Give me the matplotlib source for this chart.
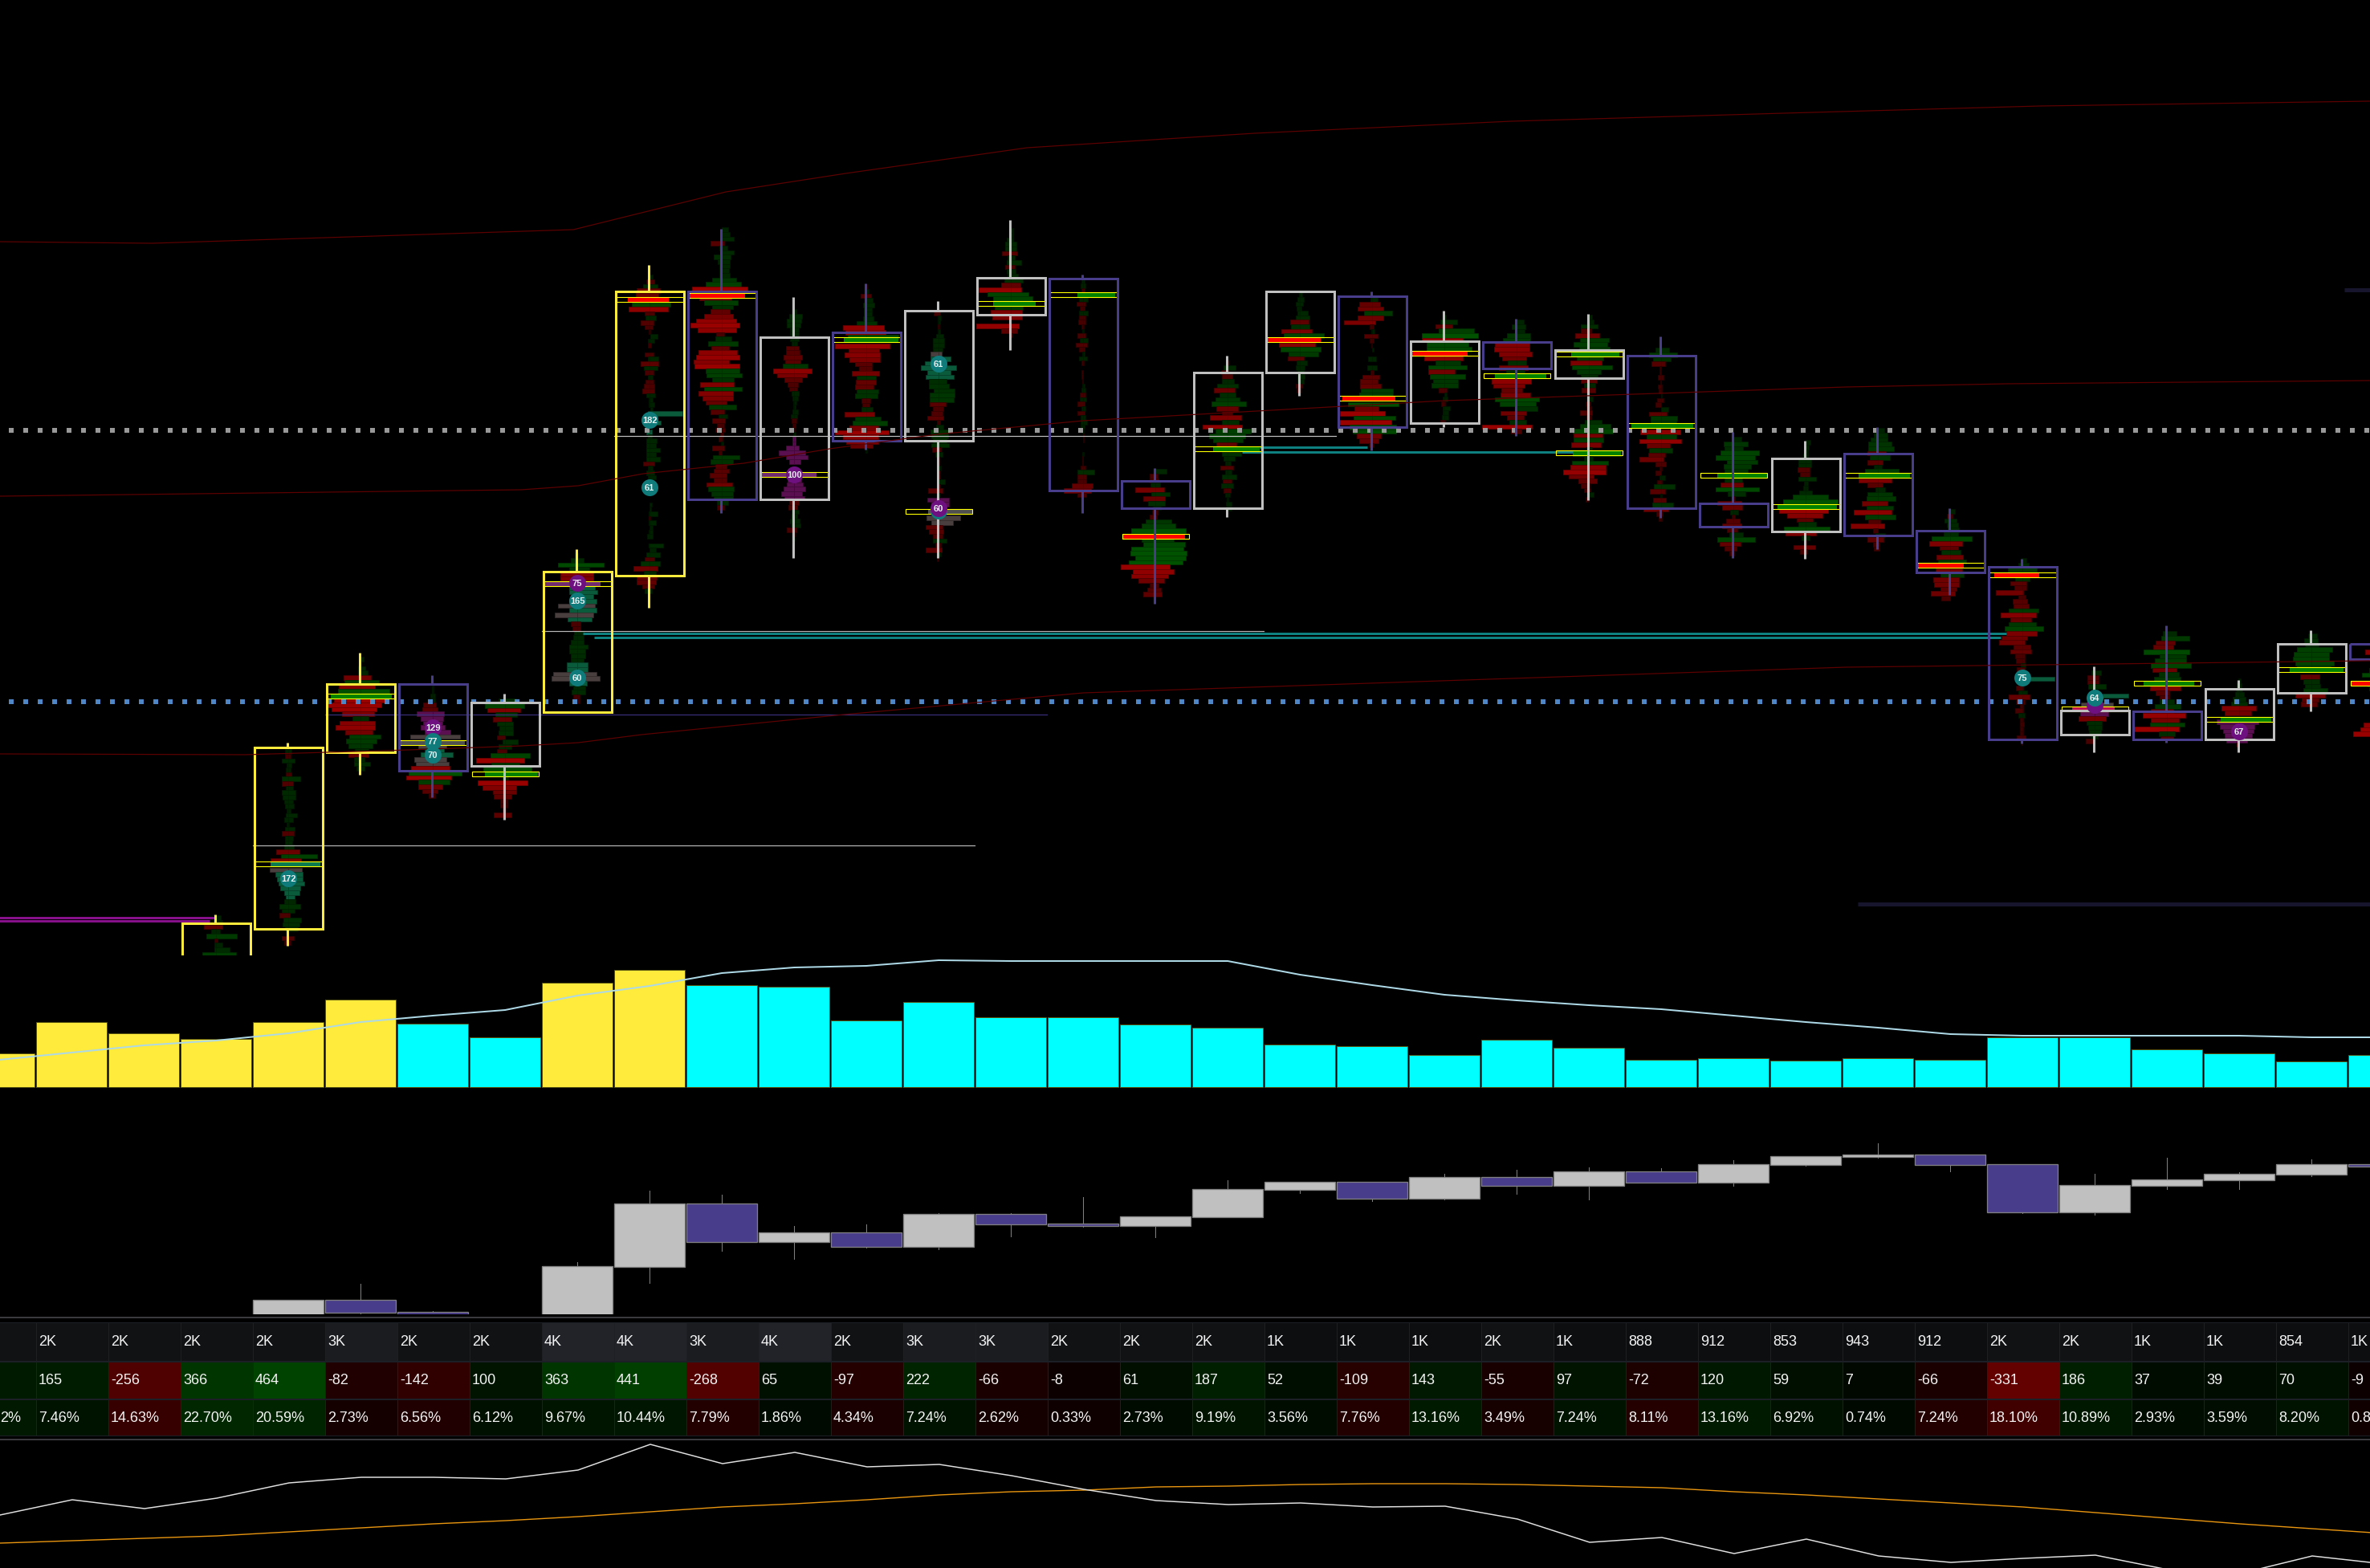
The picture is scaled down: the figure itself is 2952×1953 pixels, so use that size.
import matplotlib
matplotlib.use("Agg")
import matplotlib.pyplot as plt
from matplotlib.patches import Rectangle

W, H = 2952, 1953
PX = 90.0  # pixels per candle slot
SHIFT = 0.8 / PX  # chart panels sit just left of the slot grid

# ---------- main panel candles (price expressed in chart rows) ----------
candle_idx = list(range(3, 34))
box_top = [1150, 931, 852, 852, 875, 712, 363, 363, 420, 414, 387, 346, 347, 599, 464, 363, 369, 425, 426, 436, 443, 627, 571, 565, 661, 706, 885, 886, 858, 802, 802]
box_bot = [1210, 1157, 937, 960, 954, 887, 717, 622, 622, 549, 549, 392, 611, 633, 633, 464, 532, 527, 459, 471, 633, 656, 662, 667, 713, 921, 915, 921, 921, 863, 821]
wick_top = [1139, 925, 813, 841, 864, 684, 330, 285, 370, 353, 375, 274, 342, 583, 443, 363, 363, 387, 397, 391, 419, 538, 549, 532, 633, 696, 830, 779, 847, 785, 802]
wick_bot = [1210, 1178, 965, 993, 1021, 887, 757, 639, 695, 560, 695, 436, 639, 752, 644, 493, 561, 532, 543, 623, 645, 695, 696, 684, 741, 926, 937, 925, 937, 886, 821]
candle_kind = ["Y", "Y", "Y", "B", "W", "Y", "Y", "B", "W", "B", "W", "W", "B", "B", "W", "W", "B", "W", "B", "W", "B", "B", "W", "B", "B", "B", "W", "B", "W", "W", "B"]
poc_y = [None, 1076, 867, 925, 964, 727, 373, 368, 591, 423, 637, 378, 367, 668, 559, 423, 496, 440, 468, 441, 530, 592, 631, 592, 704, 716, 883, 851, 896, 834, 851]
prof_start = [1143, 936, 821, 855, 873, 692, 345, 286, 388, 357, 390, 287, 350, 587, 452, 367, 373, 395, 401, 395, 436, 547, 551, 536, 637, 698, 838, 789, 848, 792, 812]

profiles = {
3: "g1,6 g2,8 r15,8 g6,5 g12,26 r2,2 g2,8 g2,17 g17,25",
4: "g4,4 r4,3 g8,8 g2,4 g3,3 r3,4 g8,15 r8,6 g3,6 g8,9 g7,9 g5,6 g4,7 g2,3 g3,11 g5,6 g2,1 g4,8 r8,7 g4,6 g4,5 g5,7 r15,14 g9,36 r22,16 T22,40 x23,17 t16,18 t14,18 t12,20 t10,15 t5,14 t3,8 g5,9 g11,15 g8,8 r11,2 g6,16 g7,14 g4,12 _ r8,7 r5,3",
5: "g2,4 g1,1 g3,6 g3,9 r21,13 g20,23 r27,18 g28,36 G37,39 r33,30 r42,26 r36,20 r23,17 g10,10 r26,18 r31,18 r19,15 g14,25 g18,20 g15,15 g7,10 r15,10 g8,5 g8,12 g5,5",
6: "g1,1 g1,1 g3,3 g3,3 r12,4 r13,6 p20,14 p15,13 p12,12 p15,15 p10,22 x28,34 X42,40 x18,17 t10,14 t15,25 x23,17 x21,20 r27,21 g30,36 r33,23 g18,21 r18,12 r13,6 r5,3",
7: "g8,14 g25,24 r22,19 g12,15 r15,8 g10,10 g7,10 g8,10 r10,0 g3,16 g8,8 r10,2 g18,31 r36,24 g17,18 g27,33 G25,41 g4,4 r34,28 r28,14 r15,14 r14,8 r6,3 r6,3 r3,1 r14,8",
8: "g3,1 g8,8 g24,33 g10,15 r21,20 r21,20 P42,29 t10,22 t10,25 t8,20 t10,24 x24,22 t10,24 x28,20 t12,18 r8,4 r6,4 g4,9 g5,8 g8,8 g10,13 g10,10 g8,10 g8,8 t13,13 t13,13 x30,24 x32,28 t10,12 g5,10 g7,10 r5,3 r5,3",
9: "g0,4 r4,6 g8,10 r16,13 r17,11 R27,24 g22,26 r26,23 r6,6 g5,8 r11,5 r6,4 r1,1 g-1,10 g2,6 r2,2 _ r6,5 g2,11 r11,11 g7,10 r6,5 g2,4 r5,5 r7,6 r9,6 g4,7 g1,4 g1,6 g-1,4 t2,41 t2,10 t7,14 _ t4,3 g2,3 g4,9 g4,8 g4,13 g4,8 g4,13 r8,6 g2,4 g4,6 g2,8 _ _ _ _ _ g0,3 g0,2 g1,10 r1,1 g1,8 g0,4 g1,4 g3,4 _ g1,17 g0,8 g4,13 r6,6 g11,13 r20,10 g7,8 r16,9 r16,8 r9,6 g6,3",
10: "g0,8 g0,10 g0,15 r14,3 g3,7 g2,15 g10,11 g5,10 g3,10 g3,9 g3,10 g12,18 g20,24 r37,32 R42,29 r28,12 g22,20 g12,14 r14,10 r22,14 r32,18 r39,22 r30,18 r7,3 g8,12 g17,20 r13,9 r29,19 r32,22 r35,9 r34,22 g20,22 g19,25 g12,15 r27,15 g22,25 r29,14 r24,14 r20,6 g16,18 r14,3 g4,7 r12,4 r6,3 r8,4 r2,2 r4,1 g1,2 r12,3 r4,0 g11,22 g14,14 r8,6 r10,9 r15,6 r10,6 r19,13 g17,15 g13,14 g10,14 g6,8 r6,3",
11: "g2,3 g6,10 g9,9 g9,8 g5,6 g5,6 g5,6 g3,4 r10,6 r10,7 r13,10 r11,8 g14,17 r26,22 r21,16 r12,10 r8,5 r6,4 g3,6 g2,5 g1,3 g1,2 g2,5 g4,4 r3,3 r2,2 r2,1 g1,2 p2,2 p2,2 p10,6 p19,14 p10,17 p6,8 P43,28 p5,5 p5,5 p8,9 p9,11 p13,14 p16,10 p12,13 r6,6 r7,4 g3,6 g4,4 g5,7 g4,8 r9,3 r2,1 g1,1",
12: "r1,1 g1,3 r7,6 g2,8 g4,10 g3,7 g3,7 g4,9 g12,13 r29,22 r26,24 g23,40 G28,40 r39,29 r22,16 r27,17 r21,17 r14,7 r9,7 r18,16 g12,12 r13,12 r14,9 g12,15 g14,14 r6,5 r5,4 g6,8 r27,10 g14,18 g17,26 r21,15 r39,28 r29,15 r25,15 r20,8 g1,1",
13: "r6,2 g1,3 g1,2 r1,1 g1,2 g3,6 g7,7 g7,7 g7,5 x10,4 t10,15 t17,10 t22,22 t14,15 t16,19 g12,10 g12,13 g6,20 g11,20 g11,19 r11,9 r7,6 r9,5 r14,6 r2,2 g3,6 g10,14 g9,12 g7,10 g9,13 r8,3 g4,5 r1,1 r1,1 g1,3 r2,2 r2,2 g1,8 r2,2 r13,5 g2,2 p14,13 p9,13 p8,8 X13,42 x15,27 x9,18 r16,5 r12,6 r7,5 g7,10 r4,3 r16,4 g2,3 r2,0",
14: "g1,3 g1,3 g5,3 g7,7 g7,7 r11,8 g4,5 g5,13 r7,5 g5,6 g4,9 g8,15 r12,12 r40,13 g29,22 g22,27 G22,31 g20,15 r25,14 r23,14 _ r43,10 r12,8 r2,2",
15: "g2,2 g3,3 r2,2 G7,40 g5,6 r8,3 r4,2 g5,6 r5,3 r6,3 r2,1 g1,1 r7,3 g4,6 r9,5 r5,2 g1,2 g5,5 r2,1 _ r2,0 r2,0 r1,0 g1,2 g2,3 r4,3 g4,4 r7,2 g2,3 r7,2 g3,3 g3,5 g3,2 g1,1 r0,1 r0,1 _ _ g1,1 r1,0 r1,0 r3,3 g7,14 r7,4 r7,4 r14,12 r24,10 r7,4",
16: "g0,14 r7,3 r7,4 g6,6 r25,11 g5,18 r15,12 g9,12 g3,7 r4,3 r7,2 g12,20 g17,25 g30,38 R40,37 g17,23 g15,37 g30,35 g31,39 g25,38 g33,34 r43,18 r28,23 r30,16 r21,11 r7,4 r10,7 r15,8",
17: "r1,1 g5,10 r8,1 r7,6 g7,8 g13,13 r17,9 g10,10 g15,15 g20,23 r14,13 r7,6 r22,17 g7,14 r31,18 g15,29 g23,22 g18,19 r14,11 G18,40 g7,17 g5,9 g3,4 r9,7 g3,5 g7,11 r6,5 g8,7 r5,4 g3,3 g1,1 g2,5 g2,5 r1,0",
18: "g1,3 g3,5 g5,4 g4,2 g3,10 g5,12 r12,11 g11,12 r23,15 g20,30 R42,26 r26,19 g24,26 g14,23 r15,5 g4,9 g5,6 g3,5 g3,6 g3,5 r5,3 r4,1",
19: "g2,7 r16,10 r18,14 g10,25 r18,14 r35,4 r3,2 g1,3 r10,7 r3,2 r1,0 g0,2 _ g5,5 _ g6,6 r2,2 r12,9 r15,7 r15,11 g14,26 g16,26 R37,29 g30,33 r22,8 r40,16 g23,29 r43,24 g28,30 g24,30 r19,11 r16,8 r4,2",
20: "g1,2 g5,16 r11,10 g7,37 g28,42 r28,23 g22,30 g22,34 R40,29 r25,23 g11,20 g20,28 r20,13 g18,26 g14,17 g16,17 r7,3 g0,3 g2,4 r4,1 g2,7 g2,5 g3,5 r5,1",
21: "g0,9 g6,11 g0,10 g12,17 g17,17 r27,16 r28,16 r22,19 r18,12 g11,12 r22,14 g13,10 G27,37 r31,18 r29,10 r19,7 r20,17 g27,28 g21,24 g0,26 r20,12 r12,9 g9,12 r43,19 r7,6",
22: "g1,4 g1,6 g10,11 r10,3 r17,13 g11,25 g19,23 g12,26 G22,38 g15,18 r23,16 g21,29 g15,15 g10,11 r10,10 g6,8 r9,8 _ g2,5 r4,2 r3,3 r11,4 r3,3 g5,16 g11,27 g20,30 r19,17 g19,18 r22,15 g3,4 g20,40 g6,5 g21,24 r23,21 r32,21 r25,6 r13,10 r10,1 r6,2 g2,6 r4,0",
23: "g7,10 g15,20 g10,12 r12,5 r2,0 r2,0 r4,3 r1,0 r4,1 r3,1 g0,1 r5,3 r7,0 g0,9 r15,7 g13,20 g13,19 G37,40 r26,24 g18,19 r27,25 r18,11 g15,14 r16,5 r27,3 r7,6 r2,1 r7,0 g2,5 r5,1 g9,17 r14,5 g1,1 r10,6 g11,15 r22,9 r6,2 r3,1",
24: "g0,10 g12,18 g11,12 g16,32 g22,27 g8,30 g12,22 g11,18 G20,42 g11,11 r16,12 g22,32 g7,15 r2,2 r20,10 r14,11 g4,6 r2,2 r9,8 r14,10 r8,5 g5,12 g20,27 r17,9 r11,4 r5,1",
25: "g0,6 g1,4 g2,3 g3,3 g9,7 g9,7 r10,5 r7,5 g9,13 g2,3 g3,3 g8,8 g16,28 g28,40 G35,39 r33,28 r23,21 r11,9 g9,13 g27,30 r25,13 g5,5 r1,1 r15,12 r7,2",
26: "g0,8 g5,12 g9,12 g12,17 g12,20 r13,10 g10,15 r13,6 g5,5 g16,26 G24,40 r24,17 r13,6 g3,9 g13,18 g14,22 r20,12 g14,19 r30,17 g16,22 r12,3 r34,8 r6,0 g3,9 r13,7 r6,2 r5,2",
27: "g0,6 r4,3 g7,8 g4,10 g3,11 g8,10 g23,27 r26,15 r13,10 g11,13 r17,16 g15,20 R42,17 r18,15 g12,17 r21,11 r20,11 r12,8 r24,6 r11,0",
28: "g1,5 g5,8 g18,18 R35,21 g9,9 r15,5 r10,5 r33,1 r5,4 r12,6 r11,8 g17,20 r27,17 r15,11 g17,17 g22,26 r20,18 r26,6 r29,3 r11,10 r15,11 r9,3 r8,3 g2,4 r7,3 r4,2 t-10,40 r3,2 r8,1 g5,6 r17,9 r8,3 r3,1 r9,1 g5,3 r3,1 r3,2 r3,1 r3,1 r7,4 r1,0",
29: "g4,8 r9,5 r9,5 g8,14 g4,4 t-10,42 x8,6 x17,23 C28,25 p18,17 r20,14 g10,9 g8,9 g7,8 g4,4 r11,0",
30: "g5,12 g7,28 r14,10 r17,8 g29,28 g9,24 g15,24 g20,30 r18,12 g10,15 g16,17 G29,34 r21,17 r14,3 r9,3 g9,9 g15,17 r20,8 r30,23 r20,15 g21,22 r42,15 g10,10 r8,8",
31: "g1,2 g3,3 g4,4 g5,6 g8,8 g10,10 r22,21 r18,15 G23,40 p28,24 p24,19 p20,18 p18,16 p16,10 r4,0",
32: "g4,7 g9,8 g8,9 g18,26 g22,22 g23,22 g20,28 g18,24 G27,40 r14,10 g10,10 g8,11 g10,20 r20,17 r12,9 r13,7",
33: "r23,23 _ _ _ g18,18 g27,27 R40,40 g20,20 g18,18 _ _ _ _ _ _ _ r25,25 r29,29 r38,38",
}

# markers: candle, row, label, kind
marker_i = [4, 6, 6, 6, 8, 8, 8, 9, 9, 11, 13, 13, 13, 28, 29, 29, 31]
marker_y = [1094, 906, 923, 940, 726, 748, 844, 523, 607, 591, 453, 636, 633, 844, 878, 869, 911]
marker_label = ["172", "129", "77", "70", "75", "165", "60", "182", "61", "100", "61", "", "60", "75", "", "64", "67"]
marker_kind = ["t", "p", "t", "t", "p", "t", "t", "t", "t", "p", "t", "t", "p", "t", "p", "t", "p"]

# moving-average bands, pairs of chart x pixel / row
band1_x = [0, 190, 715, 905, 1054, 1280, 1563, 1883, 2222, 2542, 2952]
band1_y = [301, 303, 286, 239, 216, 184, 166, 151, 141, 132, 126]
band2_x = [0, 650, 721, 802, 927, 1034, 1168, 1350, 1800, 2300, 2500, 2952]
band2_y = [618, 610, 605, 590, 577, 559, 541, 524, 499, 482, 478, 474]
band3_x = [0, 306, 510, 650, 721, 800, 1052, 1350, 2300, 2952]
band3_y = [939, 940, 934, 929, 925, 915, 890, 863, 831, 823]

# ---------- volume panel ----------
vol_heights = [42, 81, 67, 60, 81, 109, 79, 62, 130, 146, 127, 125, 83, 106, 87, 87, 78, 74, 53, 51, 40, 59, 49, 34, 36, 33, 36, 34, 62, 62, 47, 42, 32, 40]
vol_color = ["#ffeb3b"] * 6 + ["#00ffff"] * 2 + ["#ffeb3b"] * 2 + ["#00ffff"] * 24
vol_line = [34, 43, 52, 58, 67, 81, 89, 96, 114, 126, 142, 149, 151, 158, 157, 157, 157, 157, 140, 127, 115, 108, 102, 97, 89, 81, 74, 66, 64, 64, 64, 64, 62, 62]

# ---------- delta candle panel ----------
d_idx = list(range(4, 34))
d_top = [1619, 1619, 1634, 0, 1577, 1499, 1499, 1535, 1535, 1512, 1512, 1524, 1515, 1481, 1472, 1472, 1466, 1466, 1459, 1459, 1450, 1440, 1438, 1438, 1450, 1476, 1469, 1462, 1450, 1450]
d_bot = [1650, 1635, 1650, 0, 1650, 1578, 1547, 1547, 1553, 1553, 1525, 1527, 1527, 1516, 1482, 1493, 1493, 1477, 1477, 1473, 1473, 1451, 1441, 1451, 1510, 1510, 1477, 1470, 1463, 1453]
d_wt = [1619, 1599, 1633, 0, 1572, 1483, 1488, 1527, 1525, 1511, 1511, 1491, 1515, 1470, 1472, 1472, 1462, 1457, 1454, 1455, 1445, 1440, 1424, 1438, 1450, 1462, 1442, 1460, 1444, 1450]
d_wb = [1650, 1637, 1650, 0, 1650, 1598, 1558, 1568, 1554, 1556, 1540, 1528, 1541, 1516, 1486, 1496, 1494, 1487, 1494, 1473, 1477, 1452, 1442, 1459, 1511, 1513, 1481, 1481, 1465, 1453]
d_up = [1, 0, 0, 1, 1, 1, 0, 1, 0, 1, 0, 0, 1, 1, 1, 0, 1, 0, 1, 0, 1, 1, 1, 0, 0, 1, 1, 1, 1, 0]

# ---------- table (column 0 only shows the tail of its percentage) ----------
tab_vol = ["", "2K", "2K", "2K", "2K", "3K", "2K", "2K", "4K", "4K", "3K", "4K", "2K", "3K", "3K", "2K", "2K", "2K", "1K", "1K", "1K", "2K", "1K", "888", "912", "853", "943", "912", "2K", "2K", "1K", "1K", "854", "1K"]
tab_delta = [150, 165, -256, 366, 464, -82, -142, 100, 363, 441, -268, 65, -97, 222, -66, -8, 61, 187, 52, -109, 143, -55, 97, -72, 120, 59, 7, -66, -331, 186, 37, 39, 70, -9]
tab_pct = ["2%", "7.46%", "14.63%", "22.70%", "20.59%", "2.73%", "6.56%", "6.12%", "9.67%", "10.44%", "7.79%", "1.86%", "4.34%", "7.24%", "2.62%", "0.33%", "2.73%", "9.19%", "3.56%", "7.76%", "13.16%", "3.49%", "7.24%", "8.11%", "13.16%", "6.92%", "0.74%", "7.24%", "18.10%", "10.89%", "2.93%", "3.59%", "8.20%", "0.8"]
pct_shade = [12.4] + [float(t[:-1]) for t in tab_pct[1:-1]] + [0.8]

# ---------- bottom oscillator ----------
osc_white = [1887, 1868, 1879, 1866, 1847, 1840, 1840, 1842, 1831, 1799, 1823, 1809, 1827, 1824, 1838, 1855, 1869, 1874, 1872, 1877, 1876, 1892, 1921, 1915, 1935, 1917, 1938, 1946, 1941, 1937, 1955, 1960, 1938, 1948]
osc_orange = [1922, 1919, 1916, 1913, 1908, 1903, 1898, 1894, 1889, 1883, 1877, 1873, 1868, 1862, 1858, 1856, 1852, 1851, 1849, 1848, 1848, 1849, 1851, 1853, 1858, 1862, 1867, 1872, 1877, 1884, 1891, 1898, 1904, 1910]

# ---------- helpers ----------
plt.rcParams["font.family"] = ["Liberation Sans", "DejaVu Sans"]
BLACK = "#000000"
fig = plt.figure(figsize=(W / 100, H / 100), dpi=100, facecolor=BLACK)


def panel(y0, y1, shift=0.0):
    ax = fig.add_axes([0, 1 - y1 / H, 1, (y1 - y0) / H])
    ax.set_facecolor(BLACK)
    ax.set_xlim(shift, W / PX + shift)
    ax.axis("off")
    return ax


def lw(px):
    return px * 0.72


KIND = {"Y": "#ffeb3b", "W": "#c0c0c0", "B": "#483d8b"}
ROW_H = 5.67


def row_color(c, w):
    if c == "r":
        v = min(0x99, int(0x36 + w * 1.8))
        return "#%02x0000" % v
    if c == "g":
        v = min(0x52, int(0x1c + w * 0.8))
        return "#00%02x00" % v
    return {"t": "#0a5a3c", "p": "#5a1050", "x": "#4a3f3f", "R": "#ff0000", "G": "#008000",
            "P": "#702a70", "X": "#505050", "T": "#0a7a50", "C": "#c01050"}[c]


def dim(col):
    r, g, b = int(col[1:3], 16), int(col[3:5], 16), int(col[5:7], 16)
    return "#%02x%02x%02x" % (int(r * .72), int(g * .72), int(b * .72))


# ---------- main panel ----------
ax = panel(0, 1190, SHIFT)
ax.set_ylim(1190, 0)

for n, i in enumerate(candle_idx):
    rows = profiles[i].split()
    for k, tok in enumerate(rows):
        if tok == "_":
            continue
        c = tok[0]
        L, R = [float(v) for v in tok[1:].split(",")]
        y = prof_start[n] + k * ROW_H
        col = row_color(c, L + R)
        if c in "RGPXTC" and poc_y[n] is not None:
            y = poc_y[n]
            ax.barh(y, (L + R) / PX, left=i - L / PX, height=6, color=col, linewidth=0, zorder=2.5)
            continue
        if L > 0:
            ax.barh(y, L / PX, left=i - L / PX, height=ROW_H, color=col, edgecolor=dim(col), linewidth=lw(0.7), zorder=2)
            ax.barh(y, R / PX, left=i, height=ROW_H, color=col, edgecolor=dim(col), linewidth=lw(0.7), zorder=2)
        else:
            ax.barh(y, (L + R) / PX, left=i - L / PX, height=ROW_H, color=col, edgecolor=dim(col), linewidth=lw(0.7), zorder=2)

# second value-area rectangle on candle 22
ax.barh(564, 60 / PX, left=22 - 20 / PX, height=6, color="#008000", linewidth=0, zorder=2.5)

# dotted level lines
ax.plot([11.5 / PX, (W + 1) / PX], [536, 536], color="#999999", lw=lw(6), dashes=(1, 2), dash_capstyle="butt", zorder=3)
ax.plot([11.5 / PX, (W + 1) / PX], [873.5, 873.5], color="#4f86c6", lw=lw(6), dashes=(1, 2), dash_capstyle="butt", zorder=3)

# horizontal level lines
ax.plot([676 / PX, 1575 / PX], [786, 786], color="#b8b8b8", lw=lw(1.2), zorder=3)
ax.plot([766 / PX, 1665 / PX], [543, 543], color="#c0c0c0", lw=lw(1.2), zorder=3)
ax.plot([316 / PX, 1215 / PX], [1052.6, 1052.6], color="#b8b8b8", lw=lw(1.2), zorder=3)
ax.plot([406 / PX, 1305 / PX], [889.5, 889.5], color="#3a2f7a", lw=lw(1.2), zorder=3)
ax.plot([727 / PX, 2500 / PX], [789, 789], color="#0e8080", lw=lw(3), zorder=3, solid_capstyle="butt")
ax.plot([741 / PX, 2493 / PX], [793.5, 793.5], color="#0e8080", lw=lw(3), zorder=3, solid_capstyle="butt")
ax.plot([1570 / PX, 1704 / PX], [557, 557], color="#0e8080", lw=lw(3), zorder=3, solid_capstyle="butt")
ax.plot([1548 / PX, 1960 / PX], [563, 563], color="#0e8080", lw=lw(3), zorder=3, solid_capstyle="butt")
ax.plot([0, 268 / PX], [1142.5, 1142.5], color="#85108a", lw=lw(3), zorder=3, solid_capstyle="butt")
ax.plot([0, 262 / PX], [1147, 1147], color="#85108a", lw=lw(3), zorder=3, solid_capstyle="butt")
ax.plot([2315 / PX, (W + 1) / PX], [1126, 1126], color="#17142e", lw=lw(5), zorder=3, solid_capstyle="butt")
ax.plot([2921 / PX, (W + 1) / PX], [361, 361], color="#17142e", lw=lw(5), zorder=3, solid_capstyle="butt")

# candles
for n, i in enumerate(candle_idx):
    col = KIND[candle_kind[n]]
    wx = i - 1.5 / PX
    ax.plot([wx, wx], [wick_top[n], box_top[n]], color=col, lw=lw(3), solid_capstyle="butt", zorder=4)
    ax.plot([wx, wx], [box_bot[n], wick_bot[n]], color=col, lw=lw(3), solid_capstyle="butt", zorder=4)
    ax.add_patch(Rectangle((i - 42.5 / PX, box_top[n]), 85 / PX, box_bot[n] - box_top[n], fill=False,
                           edgecolor=col, lw=lw(3), zorder=4))
    if poc_y[n] is not None:
        ax.add_patch(Rectangle((i - 41.5 / PX, poc_y[n] - 3), 83 / PX, 6, fill=False, edgecolor="#ffff00",
                               lw=lw(1.1), zorder=3.5))
ax.add_patch(Rectangle((22 - 41.5 / PX, 561), 83 / PX, 6, fill=False, edgecolor="#ffff00", lw=lw(1.1), zorder=3.5))

# bands
for bx, by in ((band1_x, band1_y), (band2_x, band2_y), (band3_x, band3_y)):
    ax.plot([v / PX for v in bx], by, color="#5e0000", lw=lw(1.2), zorder=5)

# markers
for i, y, lab, k in zip(marker_i, marker_y, marker_label, marker_kind):
    ax.scatter([i], [y], s=(21 * 0.72) ** 2, color="#0f7b7b" if k == "t" else "#6f1080", linewidths=0, zorder=6)
    if lab:
        ax.text(i, y, lab, color="#e8f0f0", fontsize=8, fontweight="bold", ha="center", va="center_baseline", zorder=7)

# ---------- volume panel ----------
av = panel(1190, 1359, SHIFT)
av.set_ylim(-5, 164)
av.bar(range(34), vol_heights, width=88 / PX, color=vol_color, edgecolor="#55520f", linewidth=lw(1))
av.plot(range(34), vol_line, color="#add8e6", lw=lw(2), zorder=4)

# ---------- delta panel ----------
ad = panel(1360, 1637, SHIFT)
ad.set_ylim(1637, 1360)
for n, i in enumerate(d_idx):
    if d_top[n] == 0:
        continue
    ad.plot([i, i], [d_wt[n], d_wb[n]], color="#808080", lw=lw(1), zorder=2)
    ad.bar(i, d_bot[n] - d_top[n], bottom=d_top[n], width=88 / PX, color="#c0c0c0" if d_up[n] else "#483d8b",
           edgecolor="#808080", linewidth=lw(1.3), zorder=3)

# ---------- table ----------
at = panel(1640, 1794)
at.set_ylim(1794, 1640)
at.plot([0, W / PX], [1641, 1641], color="#3a3a3e", lw=lw(2))
at.plot([0, W / PX], [1793, 1793], color="#3a3a3e", lw=lw(2))
ROWS = [(1647, 1695), (1696, 1742), (1743, 1788)]


def vol_bg(t):
    if t == "4K":
        return "#212329"
    if t == "3K":
        return "#1a1c20"
    if t == "2K" or t == "":
        return "#101214"
    return "#0c0e10"


def delta_bg(v):
    if v >= 0:
        return "#00%02x00" % min(0x50, int(8 + v * 0.125))
    return "#%02x0000" % min(0x70, int(10 + -v * 0.27))


def pct_bg(p, pos):
    if pos:
        return "#00%02x00" % min(0x40, int(8 + p * 1.4))
    return "#%02x0000" % min(0x70, int(14 + p * 2.8))


for i in range(34):
    left = i - 0.5
    cols = [vol_bg(tab_vol[i]), delta_bg(tab_delta[i]), pct_bg(pct_shade[i], tab_delta[i] >= 0)]
    labs = [tab_vol[i], str(tab_delta[i]) if i else "", tab_pct[i]]
    for (y0, y1), c, t in zip(ROWS, cols, labs):
        at.add_patch(Rectangle((left, y0), 1, y1 - y0, facecolor=c, edgecolor="#1c2026", lw=lw(1), zorder=2))
        if t:
            tx = 0.0 if i == 0 else left + 3 / PX
            at.text(tx, (y0 + y1) / 2 - 1, t, color="#f4f4f4", fontsize=13, ha="left", va="center_baseline", zorder=3)

# ---------- oscillator ----------
ao = panel(1794, 1953)
ao.set_ylim(1953, 1794)
ao.plot(range(34), osc_orange, color="#e8950f", lw=lw(1.4))
ao.plot(range(34), osc_white, color="#e0e0e0", lw=lw(1.5))

fig.savefig("out.png", dpi=100, facecolor=BLACK)
